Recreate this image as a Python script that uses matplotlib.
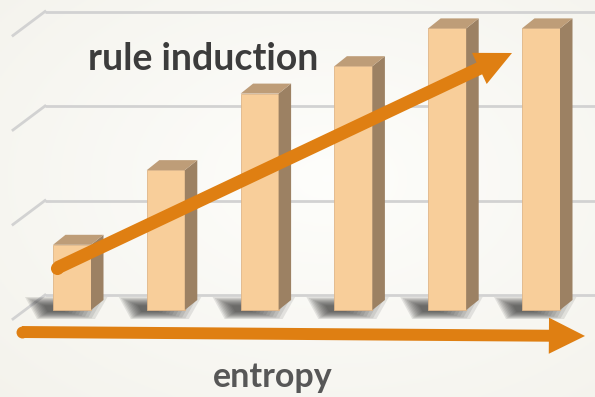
import numpy as np
import matplotlib
matplotlib.use("Agg")
import matplotlib.pyplot as plt
from matplotlib.patches import Polygon, FancyArrowPatch, ArrowStyle

# bar heights (grid step = 1)
values = [0.69, 1.48, 2.29, 2.58, 2.98, 2.98]
grid_levels = [0, 1, 2, 3]
trend_label = "rule induction"
axis_label = "entropy"

FRONT = "#F8CE9A"
SIDE = "#9C8163"
TOP = "#BE9D78"
ORANGE = "#DF7F12"

# pixel scale of the plot (fig 595x397 @ 100 dpi)
px_per_x = 93.8
px_per_y = 94.5
x0_px, y0_px = 72, 310

fig = plt.figure(figsize=(5.95, 3.97), dpi=100)
ax = fig.add_axes([0, 0, 1, 1])
xlim = (-x0_px / px_per_x, (595 - x0_px) / px_per_x)
ylim = ((y0_px - 397) / px_per_y, y0_px / px_per_y)

# background: soft cream gradient
yy, xx = np.mgrid[0:1:200j, 0:1:300j]
r = np.sqrt((xx - 0.55) ** 2 + (yy - 0.45) ** 2)
shade = np.clip(r / 0.8, 0, 1)
c_in = np.array([0.995, 0.995, 0.985])
c_out = np.array([0.955, 0.950, 0.925])
bg = c_in[None, None, :] * (1 - shade[..., None]) + c_out[None, None, :] * shade[..., None]
ax.imshow(bg, extent=[xlim[0], xlim[1], ylim[0], ylim[1]], aspect="auto", zorder=0)

def dx(px):
    return px / px_per_x

def dy(px):
    return px / px_per_y

# back wall grid lines + left wall diagonals
wall_x = dx(45 - x0_px)
for g in grid_levels:
    y = g + dy(15)
    ax.plot([wall_x, xlim[1]], [y, y], color="#D2D2D2", lw=2.0, zorder=1, solid_capstyle="butt")
    ax.plot([wall_x, wall_x - dx(32)], [y, y - dy(24)], color="#D2D2D2", lw=2.0, zorder=1)

x = np.arange(len(values))
w = dx(38)
ddx, ddy = dx(12.5), dy(10)

# floor shadows (blurred look from stacked polygons)
for xi in x:
    xl, xr = xi - w / 2, xi + w / 2
    pts = np.array([
        [xl - dx(28), dy(13)],
        [xr + ddx + dx(4), dy(13)],
        [xr + dx(4), dy(-9)],
        [xl - dx(16), dy(-9)],
    ])
    c = np.array([xl - dx(1), dy(1)])
    for s in np.linspace(1.0, 0.3, 10):
        ax.add_patch(Polygon(c + (pts - c) * s, closed=True, facecolor="#2E2E2E",
                             edgecolor="none", alpha=0.11, zorder=2))

# bars: front, side, top
ax.bar(x, values, width=w, color=FRONT, edgecolor="#E0B688", linewidth=0.6, zorder=3)
for xi, v in zip(x, values):
    xl, xr = xi - w / 2, xi + w / 2
    ax.add_patch(Polygon([[xr, 0], [xr + ddx, ddy], [xr + ddx, v + ddy], [xr, v]],
                         closed=True, facecolor=SIDE, edgecolor="none", zorder=3))
    ax.add_patch(Polygon([[xl, v], [xl + ddx, v + ddy], [xr + ddx, v + ddy], [xr, v]],
                         closed=True, facecolor=TOP, edgecolor="none", zorder=3))

# arrows
def arrow(start, end, tail, head_w, head_l):
    a = FancyArrowPatch(start, end, transform=ax.transAxes,
                        arrowstyle=ArrowStyle.Simple(head_length=head_l, head_width=head_w, tail_width=tail),
                        mutation_scale=1, shrinkA=0, shrinkB=0, color=ORANGE, lw=0, zorder=5)
    ax.add_patch(a)
    ax.plot([start[0]], [start[1]], marker="o", ms=tail, color=ORANGE, mec="none",
            transform=ax.transAxes, zorder=5)

arrow((0.0958, 0.3249), (0.8605, 0.8665), 9.4, 24.8, 26)
arrow((0.037, 0.1637), (0.9832, 0.1537), 8.6, 26, 26)

ax.text(0.341, 0.8237, trend_label, transform=ax.transAxes, ha="center", va="baseline",
        fontsize=27, fontweight="bold", family="Lato", color="#3C3C3C", zorder=6)
ax.text(0.458, 0.0252, axis_label, transform=ax.transAxes, ha="center", va="baseline",
        fontsize=24.5, fontweight="bold", family="Lato", color="#575757", zorder=6)

ax.set_xlim(xlim)
ax.set_ylim(ylim)
ax.axis("off")
fig.savefig("out.png", dpi=100)
